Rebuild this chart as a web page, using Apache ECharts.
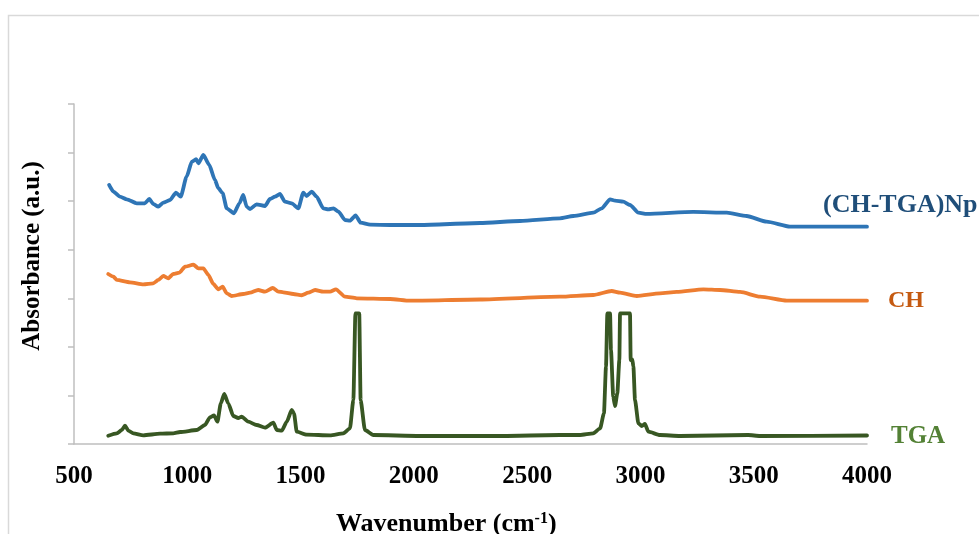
<!DOCTYPE html>
<html>
<head>
<meta charset="utf-8">
<title>FTIR spectra</title>
<script src="https://cdn.jsdelivr.net/npm/echarts@6/dist/echarts.min.js"></script>
<style>
  html, body { margin: 0; padding: 0; background: #fff; }
  #chart { width: 979px; height: 534px; }
</style>
</head>
<body>
<div id="chart"></div>
<script>
// FTIR spectra: wavenumber (cm-1) and offset absorbance (a.u.)
const npWave = [655, 674, 703, 733, 777, 813, 832, 850, 872, 894, 924, 950, 971, 997, 1020, 1039, 1049, 1071, 1097, 1122, 1137, 1156, 1174, 1206, 1230, 1247, 1262, 1277, 1306, 1343, 1365, 1387, 1409, 1431, 1461, 1490, 1512, 1527, 1549, 1571, 1600, 1622, 1645, 1667, 1696, 1718, 1743, 1765, 1807, 1895, 2027, 2292, 2469, 2645, 2704, 2792, 2829, 2866, 2888, 2924, 2954, 2991, 3028, 3233, 3381, 3469, 3557, 3660, 3822, 4000];
const npAbs = [5.333, 5.195, 5.092, 5.038, 4.956, 4.956, 5.044, 4.941, 4.886, 4.968, 5.024, 5.174, 5.092, 5.503, 5.812, 5.862, 5.779, 5.950, 5.744, 5.436, 5.265, 5.162, 4.853, 4.750, 4.956, 5.127, 4.886, 4.838, 4.935, 4.900, 5.044, 5.092, 5.147, 4.989, 4.956, 4.853, 5.174, 5.106, 5.195, 5.092, 4.853, 4.832, 4.853, 4.783, 4.612, 4.598, 4.709, 4.556, 4.515, 4.509, 4.509, 4.550, 4.591, 4.647, 4.694, 4.762, 4.853, 5.038, 5.009, 4.989, 4.921, 4.762, 4.736, 4.777, 4.762, 4.694, 4.577, 4.474, 4.474, 4.474];

const chWave = [651, 674, 689, 747, 806, 850, 872, 894, 916, 938, 965, 990, 1027, 1049, 1071, 1093, 1115, 1137, 1156, 1174, 1196, 1247, 1277, 1313, 1343, 1377, 1402, 1424, 1468, 1505, 1534, 1564, 1600, 1630, 1656, 1696, 1748, 1895, 1983, 2292, 2645, 2792, 2873, 2910, 2984, 3086, 3160, 3278, 3351, 3440, 3528, 3646, 3822, 4000];
const chAbs = [3.500, 3.445, 3.377, 3.329, 3.288, 3.309, 3.377, 3.459, 3.412, 3.500, 3.527, 3.650, 3.692, 3.617, 3.617, 3.480, 3.294, 3.185, 3.239, 3.103, 3.047, 3.088, 3.115, 3.171, 3.136, 3.212, 3.136, 3.123, 3.088, 3.062, 3.115, 3.171, 3.136, 3.136, 3.185, 3.033, 3.000, 2.985, 2.950, 2.975, 3.033, 3.068, 3.150, 3.115, 3.047, 3.103, 3.130, 3.185, 3.171, 3.130, 3.033, 2.950, 2.950, 2.950];

const tgaWave = [651, 689, 711, 725, 740, 762, 806, 880, 938, 968, 1042, 1078, 1100, 1118, 1133, 1148, 1163, 1181, 1203, 1225, 1240, 1269, 1306, 1343, 1380, 1395, 1417, 1439, 1461, 1471, 1483, 1527, 1630, 1689, 1718, 1733, 1742, 1759, 1765, 1784, 1821, 2027, 2380, 2645, 2733, 2792, 2822, 2839, 2848, 2854, 2866, 2870, 2880, 2888, 2898, 2907, 2910, 2954, 2957, 2964, 2969, 2976, 2991, 3006, 3020, 3035, 3086, 3175, 3475, 3528, 4000];
const tgaAbs = [0.171, 0.220, 0.288, 0.377, 0.274, 0.220, 0.179, 0.212, 0.220, 0.247, 0.288, 0.391, 0.550, 0.591, 0.459, 0.838, 1.029, 0.838, 0.576, 0.535, 0.562, 0.459, 0.391, 0.336, 0.439, 0.288, 0.274, 0.459, 0.700, 0.632, 0.253, 0.191, 0.179, 0.220, 0.323, 0.906, 2.691, 2.691, 0.906, 0.288, 0.185, 0.165, 0.165, 0.185, 0.185, 0.220, 0.323, 0.632, 1.592, 2.691, 2.691, 1.935, 0.974, 0.782, 1.044, 1.729, 2.691, 2.691, 1.729, 1.744, 1.592, 0.906, 0.426, 0.371, 0.412, 0.253, 0.185, 0.165, 0.185, 0.165, 0.175];

const xTicks = { min: 500, max: 4000, step: 500 };
const seriesNames = ['(CH-TGA)Np', 'CH', 'TGA'];

const serif = '"Liberation Serif", "Times New Roman", serif';
const pair = (xs, ys) => xs.map((x, i) => [x, ys[i]]);

function lineSeries(name, xs, ys, color) {
  return {
    name, type: 'line', data: pair(xs, ys),
    showSymbol: false, smooth: 0.2, smoothMonotone: 'x',
    lineStyle: { color, width: 3.8, cap: 'round', join: 'round' },
    emphasis: { disabled: true }, z: 3
  };
}

const chart = echarts.init(document.getElementById('chart'), null, { renderer: 'canvas' });
chart.setOption({
  animation: false,
  backgroundColor: '#ffffff',
  grid: { left: 74, right: 112, top: 104, bottom: 90, containLabel: false },
  xAxis: {
    type: 'value', min: xTicks.min, max: xTicks.max, interval: xTicks.step,
    axisLine: { show: true, lineStyle: { color: '#BFBFBF', width: 1.5 } },
    axisTick: { show: false },
    splitLine: { show: false },
    axisLabel: {
      color: '#000', fontFamily: serif, fontWeight: 'bold', fontSize: 25, margin: 20,
      formatter: (v) => String(v)
    }
  },
  yAxis: {
    type: 'value', min: 0, max: 7, interval: 1,
    axisLine: { show: true, lineStyle: { color: '#BFBFBF', width: 1.5 } },
    axisTick: { show: true, inside: false, length: 6, lineStyle: { color: '#BFBFBF', width: 1.5 } },
    splitLine: { show: false },
    axisLabel: { show: false }
  },
  series: [
    lineSeries(seriesNames[0], npWave, npAbs, '#2E75B6'),
    lineSeries(seriesNames[1], chWave, chAbs, '#ED7D31'),
    lineSeries(seriesNames[2], tgaWave, tgaAbs, '#385723')
  ],
  graphic: [
    { type: 'rect', shape: { x: 8.5, y: 15.5, width: 1200, height: 800 },
      style: { fill: 'none', stroke: '#D9D9D9', lineWidth: 1.5 }, silent: true, z: 0 },
    { type: 'text', x: 823, y: 205, z: 10,
      style: { text: seriesNames[0], fill: '#1F4E79', font: 'bold 26px ' + serif, verticalAlign: 'middle' } },
    { type: 'text', x: 888, y: 301, z: 10,
      style: { text: seriesNames[1], fill: '#C55A11', font: 'bold 24px ' + serif, verticalAlign: 'middle' } },
    { type: 'text', x: 891, y: 437, z: 10,
      style: { text: seriesNames[2], fill: '#538135', font: 'bold 25px ' + serif, verticalAlign: 'middle' } },
    { type: 'text', x: 336, y: 511, z: 10,
      style: {
        text: '{t|Wavenumber (cm}{s|-1}{t|)}',
        rich: {
          t: { font: 'bold 26px ' + serif, fill: '#000', verticalAlign: 'bottom' },
          s: { font: 'bold 16px ' + serif, fill: '#000', verticalAlign: 'top', padding: [0, 0, 10, 0] }
        }
      } },
    { type: 'text', x: 33, y: 256, rotation: Math.PI / 2, z: 10,
      style: { text: 'Absorbance (a.u.)', fill: '#000', font: 'bold 25px ' + serif, align: 'center', verticalAlign: 'middle' } }
  ]
});
</script>
</body>
</html>
